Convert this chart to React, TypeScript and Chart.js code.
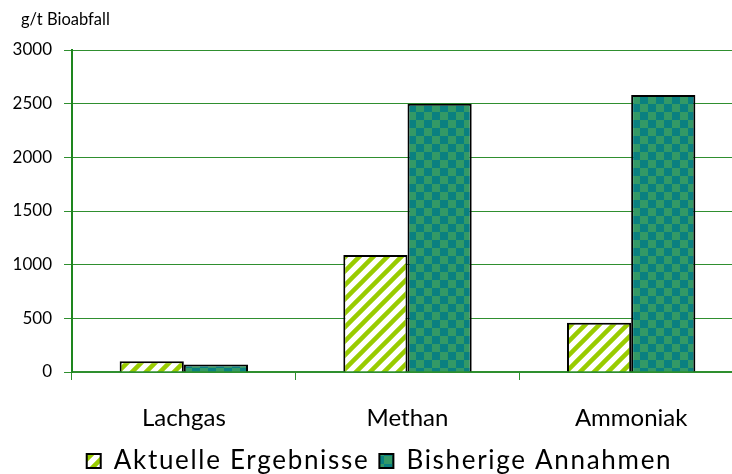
import React, { useEffect, useRef } from 'react';
import { Chart, registerables } from 'chart.js';

Chart.register(...registerables);

// Emissionen je Tonne Bioabfall
const categories = ['Lachgas', 'Methan', 'Ammoniak'];
const seriesNames = ['Aktuelle Ergebnisse', 'Bisherige Annahmen'];
const aktuelleErgebnisse = [100, 1090, 460];
const bisherigeAnnahmen = [70, 2500, 2580];
const yTicks = [0, 500, 1000, 1500, 2000, 2500, 3000];
const unitLabel = 'g/t Bioabfall';

const CANVAS_W = 760;
const CANVAS_H = 490;
const FONT = 'Lato, "Open Sans", sans-serif';
const LEGEND_SPACING = '1.7px';
const LEGEND_SHIFT = 8;

function stripePattern(): CanvasPattern | string {
  const s = 14;
  const c = document.createElement('canvas');
  c.width = s;
  c.height = s;
  const g = c.getContext('2d');
  if (!g) return '#99cc00';
  g.fillStyle = '#ffffff';
  g.fillRect(0, 0, s, s);
  g.strokeStyle = '#99cc00';
  g.lineWidth = 4.5;
  g.beginPath();
  g.moveTo(0, s);
  g.lineTo(s, 0);
  g.moveTo(-s / 2, s / 2);
  g.lineTo(s / 2, -s / 2);
  g.moveTo(s / 2, s * 1.5);
  g.lineTo(s * 1.5, s / 2);
  g.stroke();
  return g.createPattern(c, 'repeat') || '#99cc00';
}

function checkerPattern(): CanvasPattern | string {
  const q = 8;
  const c = document.createElement('canvas');
  c.width = q * 2;
  c.height = q * 2;
  const g = c.getContext('2d');
  if (!g) return '#008080';
  g.fillStyle = '#339966';
  g.fillRect(0, 0, q * 2, q * 2);
  g.fillStyle = '#0a8080';
  g.fillRect(0, 0, q, q);
  g.fillRect(q, q, q, q);
  return g.createPattern(c, 'repeat') || '#008080';
}

// Einheit über der y-Achse
const unitPlugin = {
  id: 'unitLabel',
  afterDraw(chart: any) {
    const { ctx, chartArea } = chart;
    ctx.save();
    ctx.font = `16.5px ${FONT}`;
    ctx.fillStyle = '#000';
    ctx.textAlign = 'left';
    ctx.textBaseline = 'middle';
    ctx.fillText(unitLabel, chartArea.left - 51, 20);
    ctx.restore();
  },
};

// etwas gesperrte Schrift nur für die Legende, leicht nach rechts versetzt
const legendSpacingPlugin = {
  id: 'legendSpacing',
  beforeLayout(chart: any) {
    const lg = chart.legend;
    if (!lg || lg.__spaced) return;
    lg.__spaced = true;
    const wrap = (name: string) => {
      const orig = lg[name].bind(lg);
      lg[name] = (...args: any[]) => {
        const ctx = chart.ctx;
        const prev = ctx.letterSpacing;
        ctx.letterSpacing = LEGEND_SPACING;
        try {
          return orig(...args);
        } finally {
          ctx.letterSpacing = prev;
        }
      };
    };
    wrap('fit');
    wrap('draw');
  },
  afterLayout(chart: any) {
    const lg = chart.legend;
    if (!lg) return;
    lg.left += LEGEND_SHIFT;
    lg.right += LEGEND_SHIFT;
  },
};

export default function App() {
  const ref = useRef<HTMLCanvasElement | null>(null);

  useEffect(() => {
    const canvas = ref.current;
    if (!canvas) return;
    const gridGreen = '#2f8f2f';
    const chart = new Chart(canvas, {
      type: 'bar',
      data: {
        labels: categories,
        datasets: [
          {
            label: seriesNames[0],
            data: aktuelleErgebnisse,
            backgroundColor: stripePattern() as any,
            borderColor: '#000',
            borderWidth: 2,
          },
          {
            label: seriesNames[1],
            data: bisherigeAnnahmen,
            backgroundColor: checkerPattern() as any,
            borderColor: '#000',
            borderWidth: 2,
          },
        ],
      },
      options: {
        responsive: false,
        animation: false,
        devicePixelRatio: 1,
        layout: { padding: { top: 50, left: 0, right: CANVAS_W - 743, bottom: 6 } },
        datasets: {
          bar: { categoryPercentage: 0.574, barPercentage: 1 },
        },
        plugins: {
          legend: {
            position: 'bottom',
            labels: {
              font: { family: FONT, size: 26 },
              color: '#000',
              boxWidth: 14,
              boxHeight: 14,
              padding: 10,
            },
          },
          tooltip: { enabled: false },
          title: { display: false },
        },
        scales: {
          x: {
            afterFit(scale: any) {
              scale.height = 66;
            },
            grid: {
              display: true,
              drawOnChartArea: false,
              drawTicks: true,
              tickLength: 8,
              color: gridGreen,
              offset: true,
            },
            border: { color: gridGreen, width: 1.5 },
            ticks: {
              font: { family: FONT, size: 24 },
              color: '#000',
              padding: 24,
              maxRotation: 0,
            },
          },
          y: {
            min: yTicks[0],
            max: yTicks[yTicks.length - 1],
            afterFit(scale: any) {
              scale.width = 72;
            },
            afterBuildTicks(scale: any) {
              scale.ticks = yTicks.map((v) => ({ value: v }));
            },
            grid: {
              color: gridGreen,
              lineWidth: 1,
              tickLength: 8,
              drawTicks: true,
            },
            border: { color: '#1e861e', width: 2 },
            ticks: {
              font: { family: FONT, size: 17 },
              color: '#000',
              padding: 12,
              callback: (v: any) => String(v),
            },
          },
        },
      },
      plugins: [unitPlugin, legendSpacingPlugin],
    });
    return () => chart.destroy();
  }, []);

  return (
    <div
      style={{
        position: 'fixed',
        left: 0,
        top: 0,
        width: 732,
        height: 474,
        overflow: 'hidden',
        background: '#fff',
      }}
    >
      <canvas
        ref={ref}
        width={CANVAS_W}
        height={CANVAS_H}
        style={{ width: CANVAS_W, height: CANVAS_H, display: 'block' }}
      />
    </div>
  );
}
